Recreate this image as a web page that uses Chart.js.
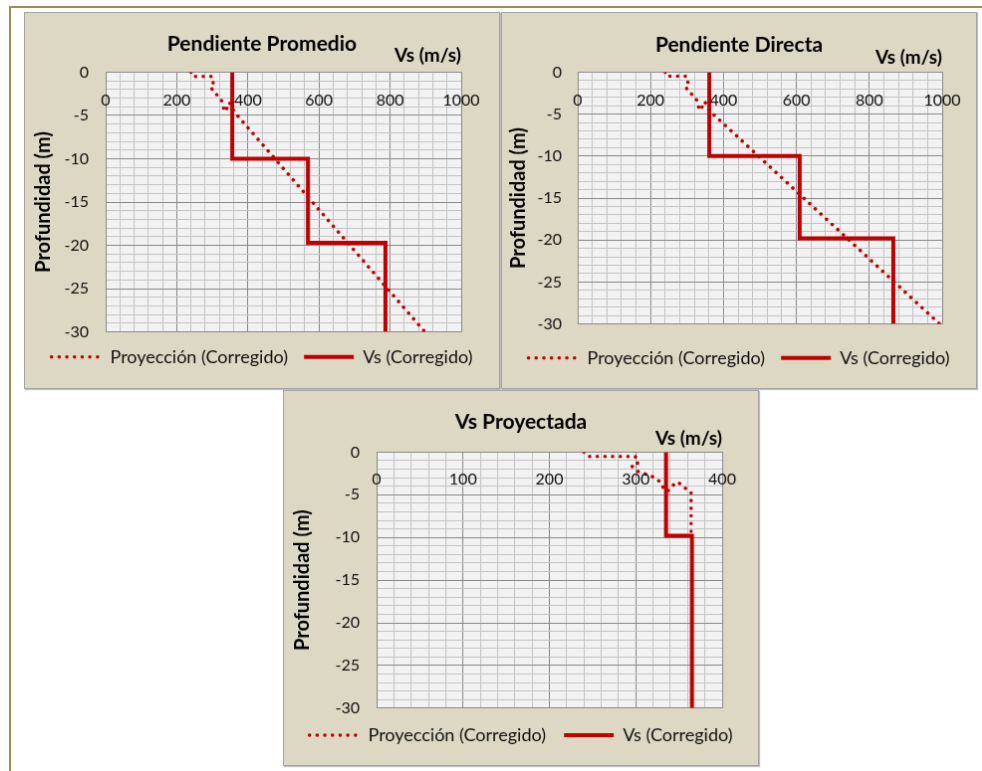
<!DOCTYPE html>
<html>
<head>
<meta charset="utf-8">
<script src="https://cdn.jsdelivr.net/npm/chart.js@4.4.1/dist/chart.umd.min.js"></script>
<style>
  body { margin: 0; background: #fff; width: 982px; height: 771px; position: relative; overflow: hidden; }
  .frame-top { position: absolute; left: 9px; top: 6px; width: 973px; height: 2px; background: #988e5a; }
  .frame-left { position: absolute; left: 9px; top: 6px; width: 2px; height: 765px; background: #988e5a; }
  canvas.panel { position: absolute; background: #ddd8c3; border: 1px solid #a3a3a3; box-shadow: 1px 1px 1px rgba(0,0,0,0.25); }
</style>
</head>
<body>
<div class="frame-top"></div>
<div class="frame-left"></div>
<canvas id="c1" class="panel" width="476" height="377" style="left:24px;top:12px"></canvas>
<canvas id="c2" class="panel" width="476" height="377" style="left:501px;top:12px"></canvas>
<canvas id="c3" class="panel" width="476" height="376" style="left:283px;top:390px"></canvas>
<script>
// Vs (Corregido) step profiles: velocity (m/s) against depth (m)
const depthVsPromedio = [0, -10, -10, -19.7, -19.7, -30];
const vsPromedio = [356, 356, 569, 569, 787, 787];
const depthVsDirecta = [0, -10, -10, -19.8, -19.8, -30];
const vsDirecta = [361, 361, 609, 609, 866, 866];
const depthVsProyectada = [0, -9.8, -9.8, -30];
const vsProyectada = [335, 335, 365, 365];

// Proyeccion (Corregido): measured top part, same in the three charts
const depthProyTop = [0, -0.5, -0.5, -0.9, -1.3, -1.6, -2.3, -2.7, -3.1, -3.7, -4.5, -4.5, -3.9, -3.5, -3.9, -4.5, -4.7];
const vsProyTop = [240, 244, 299, 303, 302, 295, 303, 315, 324, 330, 333, 338, 343, 348, 354, 360, 364];
// ...and where each chart takes it down to
const depthProyPromedio = depthProyTop.concat([-30]);
const vsProyPromedio = vsProyTop.concat([898]);
const depthProyDirecta = depthProyTop.concat([-30]);
const vsProyDirecta = vsProyTop.concat([993]);
const depthProyProyectada = depthProyTop.concat([-9.7]);
const vsProyProyectada = vsProyTop.concat([364]);

const RED = '#c00000';
const GRID_MAJOR = '#8a8a8a';
const GRID_MINOR = '#c4c4c4';
const TXT = '#111';

Chart.defaults.font.family = 'Lato, "Open Sans", sans-serif';
Chart.defaults.color = TXT;

function toPoints(xs, ys) {
  return xs.map((v, i) => ({x: v, y: ys[i]}));
}

// legend samples take the dash / width of the dataset line
function lineLegendLabels(chart) {
  return Chart.defaults.plugins.legend.labels.generateLabels(chart).map(item => {
    const ds = chart.data.datasets[item.datasetIndex];
    item.lineDash = ds.borderDash || [];
    item.lineWidth = ds.borderWidth;
    item.lineCap = ds.borderCapStyle || 'butt';
    item.strokeStyle = ds.borderColor;
    return item;
  });
}

// light grey plot area
const plotBg = {
  id: 'plotBg',
  beforeDraw(chart) {
    const a = chart.chartArea, ctx = chart.ctx;
    ctx.save();
    ctx.fillStyle = '#f2f2f2';
    ctx.fillRect(a.left, a.top, a.right - a.left, a.bottom - a.top);
    ctx.restore();
  }
};

// x labels sit inside the plot, a bit under the top edge (like the excel sheet)
const topTickLabels = {
  id: 'topTickLabels',
  afterDatasetsDraw(chart, args, opts) {
    const sx = chart.scales.x, ctx = chart.ctx;
    ctx.save();
    ctx.font = '16px Lato';
    ctx.fillStyle = TXT;
    ctx.textAlign = 'center';
    ctx.textBaseline = 'middle';
    sx.ticks.forEach(t => {
      if (Math.abs(t.value % opts.major) < 1e-6) {
        ctx.fillText(String(t.value), sx.getPixelForValue(t.value), chart.chartArea.top + opts.offset);
      }
    });
    ctx.restore();
  }
};

function makeChart(id, c) {
  const isMajorX = v => Math.abs(v % c.xMajor) < 1e-6;
  const isMajorY = v => Math.abs(v % 5) < 1e-6;
  return new Chart(document.getElementById(id), {
    type: 'scatter',
    data: {
      datasets: [
        {
          label: 'Proyección (Corregido)',
          data: toPoints(c.proyVs, c.proyDepth),
          showLine: true,
          borderColor: RED,
          backgroundColor: RED,
          borderWidth: 3.5,
          borderDash: [0.1, 7.6],
          borderCapStyle: 'round',
          pointRadius: 0
        },
        {
          label: 'Vs (Corregido)',
          data: toPoints(c.vs, c.depth),
          showLine: true,
          borderColor: RED,
          backgroundColor: RED,
          borderWidth: 4,
          pointRadius: 0
        }
      ]
    },
    options: {
      responsive: false,
      animation: false,
      layout: {padding: {top: 0, left: 0, right: 0, bottom: c.padBottom}},
      plugins: {
        title: {
          display: true,
          text: c.title,
          color: '#000',
          font: {size: 21, weight: 'bold', lineHeight: 1.2},
          padding: {top: c.titleY - 12.6, bottom: 0}
        },
        legend: {
          position: 'bottom',
          // empty title only used as a spacer above the items
          title: {display: c.legendGap > 0, text: '', padding: 0, font: {size: Math.max(c.legendGap, 1), lineHeight: 1}},
          labels: {
            usePointStyle: true,
            pointStyle: 'line',
            pointStyleWidth: 50,
            padding: c.legendPad,
            color: TXT,
            font: {size: 18},
            generateLabels: lineLegendLabels
          }
        },
        tooltip: {enabled: false},
        topTickLabels: {major: c.xMajor, offset: c.xLabelOffset}
      },
      scales: {
        x: {
          type: 'linear',
          position: 'top',
          min: 0,
          max: c.xMax,
          ticks: {stepSize: c.xStep, display: false, autoSkip: false},
          grid: {
            drawTicks: false,
            color: ctx => (ctx.tick && isMajorX(ctx.tick.value)) ? GRID_MAJOR : GRID_MINOR
          },
          border: {color: GRID_MAJOR},
          title: {
            display: true,
            text: 'Vs (m/s)',
            align: 'end',
            color: '#000',
            font: {size: 19, weight: 'bold', lineHeight: 1.2},
            padding: {top: c.xTitlePad, bottom: 0}
          },
          afterFit(s) {
            s.height = c.xAxisH;
            s.paddingLeft = 0;
            s.paddingRight = c.padRight;
          }
        },
        y: {
          type: 'linear',
          min: -30,
          max: 0,
          ticks: {
            stepSize: 1,
            autoSkip: false,
            padding: c.yTickPad,
            color: TXT,
            font: {size: 16},
            callback: v => isMajorY(v) ? String(v) : ''
          },
          grid: {
            drawTicks: false,
            color: ctx => (ctx.tick && isMajorY(ctx.tick.value)) ? GRID_MAJOR : GRID_MINOR
          },
          border: {color: GRID_MAJOR},
          title: {
            display: true,
            text: 'Profundidad (m)',
            color: '#000',
            font: {size: 20, weight: 'bold', lineHeight: 1.2},
            padding: {top: c.yTitlePad, bottom: 0}
          },
          afterFit(s) {
            s.width = c.yAxisW;
            s.paddingTop = 0;
            s.paddingBottom = 0;
          }
        }
      }
    },
    plugins: [plotBg, topTickLabels]
  });
}

makeChart('c1', {
  title: 'Pendiente Promedio',
  vs: vsPromedio, depth: depthVsPromedio,
  proyVs: vsProyPromedio, proyDepth: depthProyPromedio,
  xMax: 1000, xStep: 40, xMajor: 200, xLabelOffset: 28,
  titleY: 31, xAxisH: 15.8, xTitlePad: -12.4,
  yAxisW: 81, yTickPad: 17, yTitlePad: 7,
  padRight: 38, legendPad: 16.2, legendGap: 0, padBottom: 12.2
});

makeChart('c2', {
  title: 'Pendiente Directa',
  vs: vsDirecta, depth: depthVsDirecta,
  proyVs: vsProyDirecta, proyDepth: depthProyDirecta,
  xMax: 1000, xStep: 40, xMajor: 200, xLabelOffset: 28,
  titleY: 32, xAxisH: 14.8, xTitlePad: -11.4,
  yAxisW: 76, yTickPad: 16, yTitlePad: 5,
  padRight: 34, legendPad: 16.2, legendGap: 9, padBottom: 11.2
});

makeChart('c3', {
  title: 'Vs Proyectada',
  vs: vsProyectada, depth: depthVsProyectada,
  proyVs: vsProyProyectada, proyDepth: depthProyProyectada,
  xMax: 400, xStep: 20, xMajor: 100, xLabelOffset: 27,
  titleY: 31, xAxisH: 17.8, xTitlePad: -7.4,
  yAxisW: 93, yTickPad: 17, yTitlePad: 6.5,
  padRight: 36, legendPad: 18.2, legendGap: 0, padBottom: 11
});
</script>
</body>
</html>
